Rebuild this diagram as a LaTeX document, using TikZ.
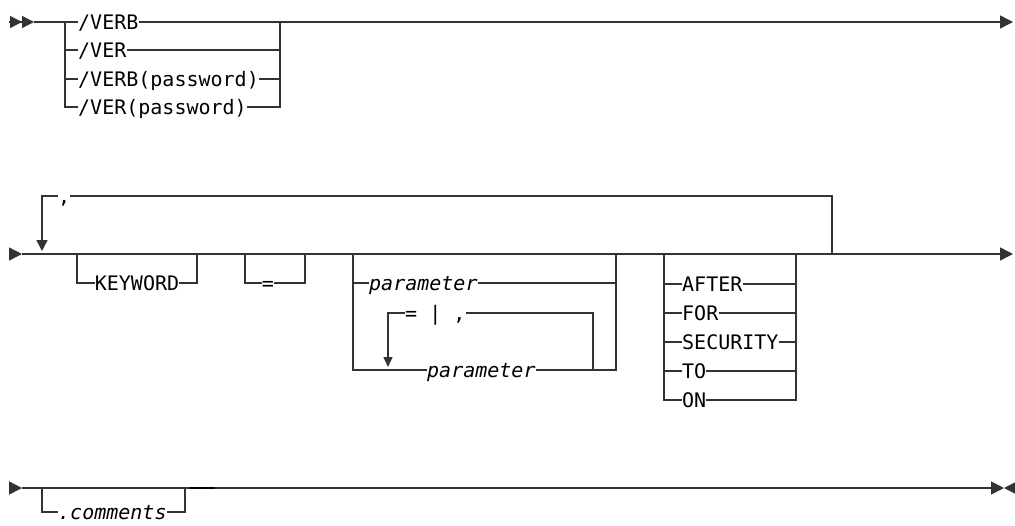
\documentclass[tikz,border=0pt]{standalone}
\usepackage{fontspec}
\setmonofont{DejaVu Sans Mono}
\usetikzlibrary{arrows.meta}
\tikzset{
  rail/.style={draw=black!80, line width=1.4pt},
  kw/.style={anchor=west, inner sep=0pt, text height=14.6pt, text depth=0pt, font=\ttfamily\fontsize{20}{24}\selectfont},
  kwc/.style={kw, anchor=center},
  var/.style={kw, font=\ttfamily\itshape\fontsize{20}{24}\selectfont},
  head/.style={-{Triangle[length=13pt, width=13pt]}},
  head2/.style={-{Triangle[length=12pt, width=12pt, sep=0pt] Triangle[length=12pt, width=12pt, sep=0pt]}},
  back/.style={-{Triangle[length=11pt, width=11pt]}, shorten >=3pt},
  backs/.style={-{Triangle[length=10pt, width=9pt]}, shorten >=3pt},
}
\begin{document}
\begin{tikzpicture}[x=1pt, y=-1pt]
  \useasboundingbox (0,0) rectangle (1015,525);
  % linha 1
  \coordinate (a1) at (65,22); \coordinate (b1) at (280,22); \coordinate (e1) at (1013,22);
  \node[kw] (verb) at (78,22) {/VERB};
  \node[kw] (ver) at (78,50) {/VER};
  \node[kw] (verbp) at (78,79) {/VERB(password)};
  \node[kw] (verp) at (78,107) {/VER(password)};
  \draw[rail, head2] (9,22) -- (34,22);
  \draw[rail] (34,22) -- (verb.west); \draw[rail, head] (verb.east) -- (e1);
  \draw[rail] (a1) |- (verp.west); \draw[rail] (verp.east) -| (b1);
  \draw[rail] (a1 |- ver) -- (ver.west); \draw[rail] (ver.east) -- (b1 |- ver);
  \draw[rail] (a1 |- verbp) -- (verbp.west); \draw[rail] (verbp.east) -- (b1 |- verbp);
  % linha 2
  \coordinate (s2) at (9,254); \coordinate (m2) at (22,254); \coordinate (e2) at (1013,254);
  \draw[rail, head] (s2) -- (m2); \draw[rail, head] (m2) -- (e2);
  \coordinate (la) at (42,254); \coordinate (lb) at (832,254);
  \node[kw] (virg) at (58,196) {,};
  \draw[rail, back] (virg.west) -| (la); \draw[rail] (virg.east) -| (lb);
  \coordinate (k1) at (77,254); \coordinate (k2) at (197,254);
  \node[kwc] (keyword) at (137,283) {KEYWORD};
  \draw[rail] (k1) |- (keyword.west); \draw[rail] (keyword.east) -| (k2);
  \coordinate (q1) at (245,254); \coordinate (q2) at (305,254);
  \node[kwc] (igual) at (268,283) {=};
  \draw[rail] (q1) |- (igual.west); \draw[rail] (igual.east) -| (q2);
  \coordinate (p1) at (353,254); \coordinate (p2) at (616,254);
  \node[var] (par1) at (369,283) {parameter};
  \node[var] (par2) at (427,370) {parameter};
  \draw[rail] (p1) |- (par2.west); \draw[rail] (par2.east) -| (p2);
  \draw[rail] (p1 |- par1) -- (par1.west); \draw[rail] (par1.east) -- (p2 |- par1);
  \coordinate (i1) at (388,370); \coordinate (i2) at (593,370);
  \node[kw] (sep) at (405,313) {=~|~,};
  \draw[rail, backs] (sep.west) -| (i1); \draw[rail] (sep.east) -| (i2);
  \coordinate (c1) at (664,254); \coordinate (c2) at (796,254);
  \node[kw] (after) at (682,284) {AFTER};
  \node[kw] (for) at (682,313) {FOR};
  \node[kw] (secu) at (682,342) {SECURITY};
  \node[kw] (to) at (682,371) {TO};
  \node[kw] (on) at (682,400) {ON};
  \draw[rail] (c1) |- (on.west); \draw[rail] (on.east) -| (c2);
  \draw[rail] (c1 |- after) -- (after.west); \draw[rail] (after.east) -- (c2 |- after);
  \draw[rail] (c1 |- for) -- (for.west); \draw[rail] (for.east) -- (c2 |- for);
  \draw[rail] (c1 |- secu) -- (secu.west); \draw[rail] (secu.east) -- (c2 |- secu);
  \draw[rail] (c1 |- to) -- (to.west); \draw[rail] (to.east) -- (c2 |- to);
  % linha 3
  \coordinate (s3) at (9,488); \coordinate (m3) at (22,488);
  \coordinate (f3) at (1004,488); \coordinate (e3) at (1015,488);
  \draw[rail, head] (s3) -- (m3); \draw[rail, head] (m3) -- (f3); \draw[rail, head] (e3) -- (f3);
  \coordinate (o1) at (42,488); \coordinate (o2) at (185,488);
  \node[var] (coment) at (58,512) {.comments};
  \draw[rail] (o1) |- (coment.west); \draw[rail] (coment.east) -| (o2);
  \draw[rail, draw=black, line width=2.6pt] (190,488) -- (215,488);
\end{tikzpicture}
\end{document}
